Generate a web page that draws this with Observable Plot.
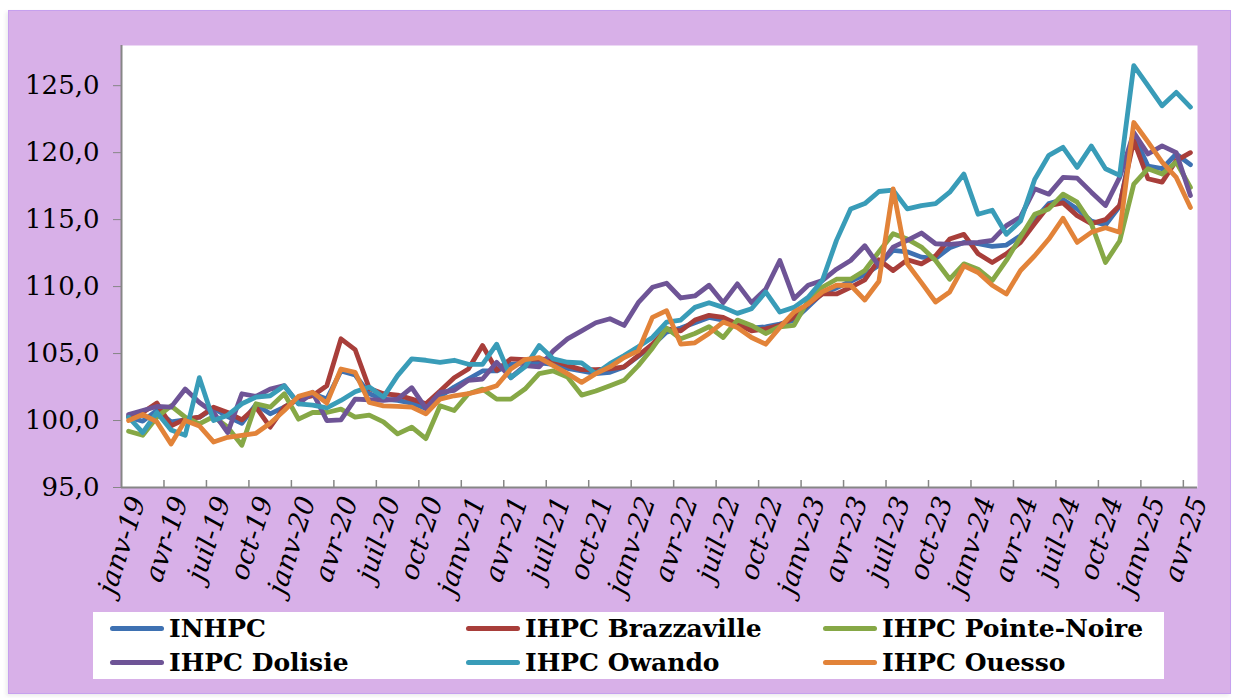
<!DOCTYPE html>
<html><head><meta charset="utf-8">
<script src="https://cdn.jsdelivr.net/npm/d3@7"></script>
<script src="https://cdn.jsdelivr.net/npm/@observablehq/plot@0.6"></script>
<style>
html,body{margin:0;padding:0;background:#fff;}
body{width:1235px;height:698px;position:relative;overflow:hidden;font-family:"DejaVu Serif",serif;}
#frame{position:absolute;left:8px;top:10px;width:1223px;height:684px;box-sizing:border-box;background:#D8B0E8;border:1px solid #C6A0EE;box-shadow:-2px 2px 4px rgba(0,0,0,0.08);}
#chart{position:absolute;left:0;top:0;}
#legend{position:absolute;left:84px;top:601px;width:1071px;height:67px;background:#fff;}
.item{position:absolute;display:flex;align-items:center;font-weight:bold;font-size:25px;color:#000;height:32px;white-space:nowrap;}
.sw{width:54px;height:5px;border-radius:3px;margin-right:5px;}
</style></head><body>
<div id="frame"><div id="chart"></div><div id="legend"></div></div>
<script>
// ---- labels ----
const monthAbbr = ["janv","févr","mars","avr","mai","juin","juil","août","sept","oct","nov","déc"];
const years = ["19","20","21","22","23","24","25"];
const months = [];
for (const y of years) for (const m of monthAbbr) months.push(m + "-" + y);
months.length = 76; // janv-19 ... avr-25

const seriesNames = ["INHPC","IHPC Brazzaville","IHPC Pointe-Noire","IHPC Dolisie","IHPC Owando","IHPC Ouesso"];
const seriesColors = ["#3E71B2","#A83E3A","#86A846","#6E5496","#399CB8","#E28339"];
const yTicks = [95,100,105,110,115,120,125];

// ---- series values (janv-19 ... avr-25) ----
const inhpc = [100.25,99.95,100.75,99.9,100.05,100.25,100.9,100.3,99.8,101.2,100.5,101.0,
  101.6,102.0,101.6,103.7,103.4,102.0,101.6,101.5,101.3,100.9,101.8,102.5,
  103.1,103.7,103.7,104.2,104.3,104.3,104.2,103.9,103.7,103.5,103.6,104.0,
  104.8,105.6,106.6,106.9,107.3,107.7,107.5,107.2,106.9,107.0,107.2,107.5,
  108.5,109.5,109.9,110.4,110.9,111.6,112.7,112.6,112.2,112.1,112.9,113.3,
  113.2,113.0,113.1,113.8,115.0,116.2,116.5,115.8,114.9,114.6,116.0,121.3,
  119.0,118.8,119.9,119.1];
const brazzaville = [100.3,100.6,101.3,99.6,100.1,100.25,101.0,100.6,100.05,101.0,99.5,101.0,
  101.6,101.85,102.6,106.1,105.3,102.4,102.0,101.9,101.6,101.25,102.2,103.2,
  103.85,105.6,103.75,104.6,104.55,104.6,104.5,104.1,103.8,103.8,103.85,104.0,
  104.85,105.7,106.85,106.7,107.5,107.85,107.7,107.2,106.7,106.85,107.1,107.7,
  108.7,109.45,109.45,109.95,110.5,112.0,111.2,112.0,111.7,112.3,113.55,113.9,
  112.45,111.8,112.45,113.3,114.7,116.05,116.25,115.3,114.7,115.0,116.05,120.9,
  118.05,117.8,119.4,120.0];
const pointeNoire = [99.2,98.9,100.25,101.1,100.25,99.75,100.3,99.5,98.15,101.25,101.0,102.0,
  100.1,100.6,100.6,100.85,100.25,100.4,99.9,99.0,99.5,98.65,101.1,100.75,
  102.0,102.35,101.6,101.6,102.35,103.5,103.7,103.25,101.9,102.2,102.6,103.0,
  104.1,105.4,106.9,106.1,106.5,107.0,106.2,107.5,107.1,106.5,107.0,107.1,
  108.95,109.95,110.55,110.55,111.2,112.6,113.95,113.55,112.95,111.95,110.55,111.7,
  111.3,110.45,111.95,113.7,115.4,115.8,116.9,116.3,114.7,111.8,113.4,117.65,
  118.8,118.4,119.3,117.4];
const dolisie = [100.45,100.75,101.05,101.0,102.35,101.35,100.6,99.1,102.0,101.8,102.35,102.6,
  101.25,102.1,100.0,100.05,101.6,101.55,101.5,101.6,102.45,100.9,102.1,102.25,
  103.0,103.1,104.35,103.2,104.1,104.0,105.2,106.1,106.7,107.3,107.6,107.1,
  108.8,109.95,110.25,109.15,109.3,110.1,108.8,110.2,108.8,109.8,111.95,109.1,
  110.1,110.45,111.3,111.95,113.05,111.55,112.95,113.45,114.0,113.2,113.15,113.25,
  113.3,113.45,114.55,115.2,117.3,116.9,118.15,118.1,117.05,116.05,118.15,121.5,
  119.9,120.5,120.0,116.8];
const owando = [100.25,99.1,100.6,99.3,98.9,103.2,100.0,100.4,101.25,101.75,101.85,102.6,
  101.25,101.15,100.95,101.5,102.15,102.5,101.75,103.35,104.6,104.5,104.35,104.5,
  104.2,104.2,105.7,103.2,104.0,105.6,104.6,104.35,104.3,103.5,104.25,104.85,
  105.5,106.2,107.35,107.5,108.45,108.8,108.45,108.0,108.35,109.6,108.1,108.45,
  109.2,110.45,113.45,115.8,116.2,117.1,117.2,115.8,116.05,116.2,117.05,118.4,
  115.4,115.7,113.9,114.9,118.0,119.8,120.4,118.9,120.5,118.8,118.3,126.5,
  125.0,123.5,124.5,123.4];
const ouesso = [100.0,100.45,99.9,98.25,100.0,99.6,98.4,98.75,98.9,99.05,99.8,100.75,
  101.8,102.1,101.3,103.85,103.6,101.35,101.1,101.05,101.0,100.5,101.6,101.85,
  102.0,102.25,102.6,103.85,104.55,104.7,104.1,103.5,102.85,103.5,104.0,104.7,
  105.2,107.7,108.2,105.7,105.8,106.5,107.35,106.95,106.2,105.7,106.95,108.1,
  108.7,109.6,110.1,110.1,109.0,110.4,117.3,111.7,110.3,108.85,109.6,111.55,
  111.05,110.1,109.45,111.2,112.3,113.55,115.1,113.3,114.05,114.4,114.05,122.25,
  120.8,119.3,118.15,115.9];

const seriesValues = [inhpc, brazzaville, pointeNoire, dolisie, owando, ouesso];
const rows = [];
seriesNames.forEach((s, k) => seriesValues[k].forEach((v, i) => rows.push({s, i, v})));

const labelIdx = months.map((_, i) => i).filter(i => i % 3 === 0);
const boundaries = months.map((_, i) => i + 2.5).filter((b, i) => i % 3 === 0 && b < 75);

const W = 1221, H = 600, mT = 34, mB = 124, mL = 112, mR = 33;
const gray = "#868686";

const chart = Plot.plot({
  width: W, height: H,
  marginTop: mT, marginBottom: mB, marginLeft: mL, marginRight: mR,
  style: {fontFamily: "DejaVu Serif", background: "transparent", color: "#000", overflow: "visible"},
  x: {type: "linear", domain: [-0.5, 75.5], axis: null},
  y: {domain: [95, 128], axis: null},
  color: {domain: seriesNames, range: seriesColors},
  marks: [
    Plot.frame({fill: "white", stroke: "none"}),
    Plot.ruleX(boundaries, {stroke: gray, strokeWidth: 1.5, insetTop: (H - mT - mB) - 7}),
    Plot.ruleX([-0.5], {stroke: gray, strokeWidth: 2}),
    Plot.ruleY([95], {stroke: gray, strokeWidth: 2}),
    Plot.axisY({ticks: yTicks, tickFormat: d => d.toFixed(1).replace(".", ","), tickSize: 8, tickPadding: 14,
      fontSize: 26, stroke: gray, fill: "#000", label: null}),
    Plot.text(labelIdx, {x: d => d, text: d => months[d], frameAnchor: "bottom", rotate: -72,
      textAnchor: "end", lineAnchor: "middle", dy: 10, dx: 9, fontSize: 27, fontStyle: "italic", fill: "#000"}),
    Plot.line(rows, {x: "i", y: "v", z: "s", stroke: "s", strokeWidth: 4.8,
      strokeLinejoin: "round", strokeLinecap: "round"})
  ]
});
document.getElementById("chart").appendChild(chart);

// legend
const legend = document.getElementById("legend");
const colX = [17, 373, 730], rowY = [0, 34];
seriesNames.forEach((name, n) => {
  const d = document.createElement("div");
  d.className = "item";
  d.style.left = colX[n % 3] + "px";
  d.style.top = rowY[Math.floor(n / 3)] + "px";
  const sw = document.createElement("span");
  sw.className = "sw";
  sw.style.background = seriesColors[n];
  d.appendChild(sw);
  d.appendChild(document.createTextNode(name));
  legend.appendChild(d);
});
</script>
</body></html>
